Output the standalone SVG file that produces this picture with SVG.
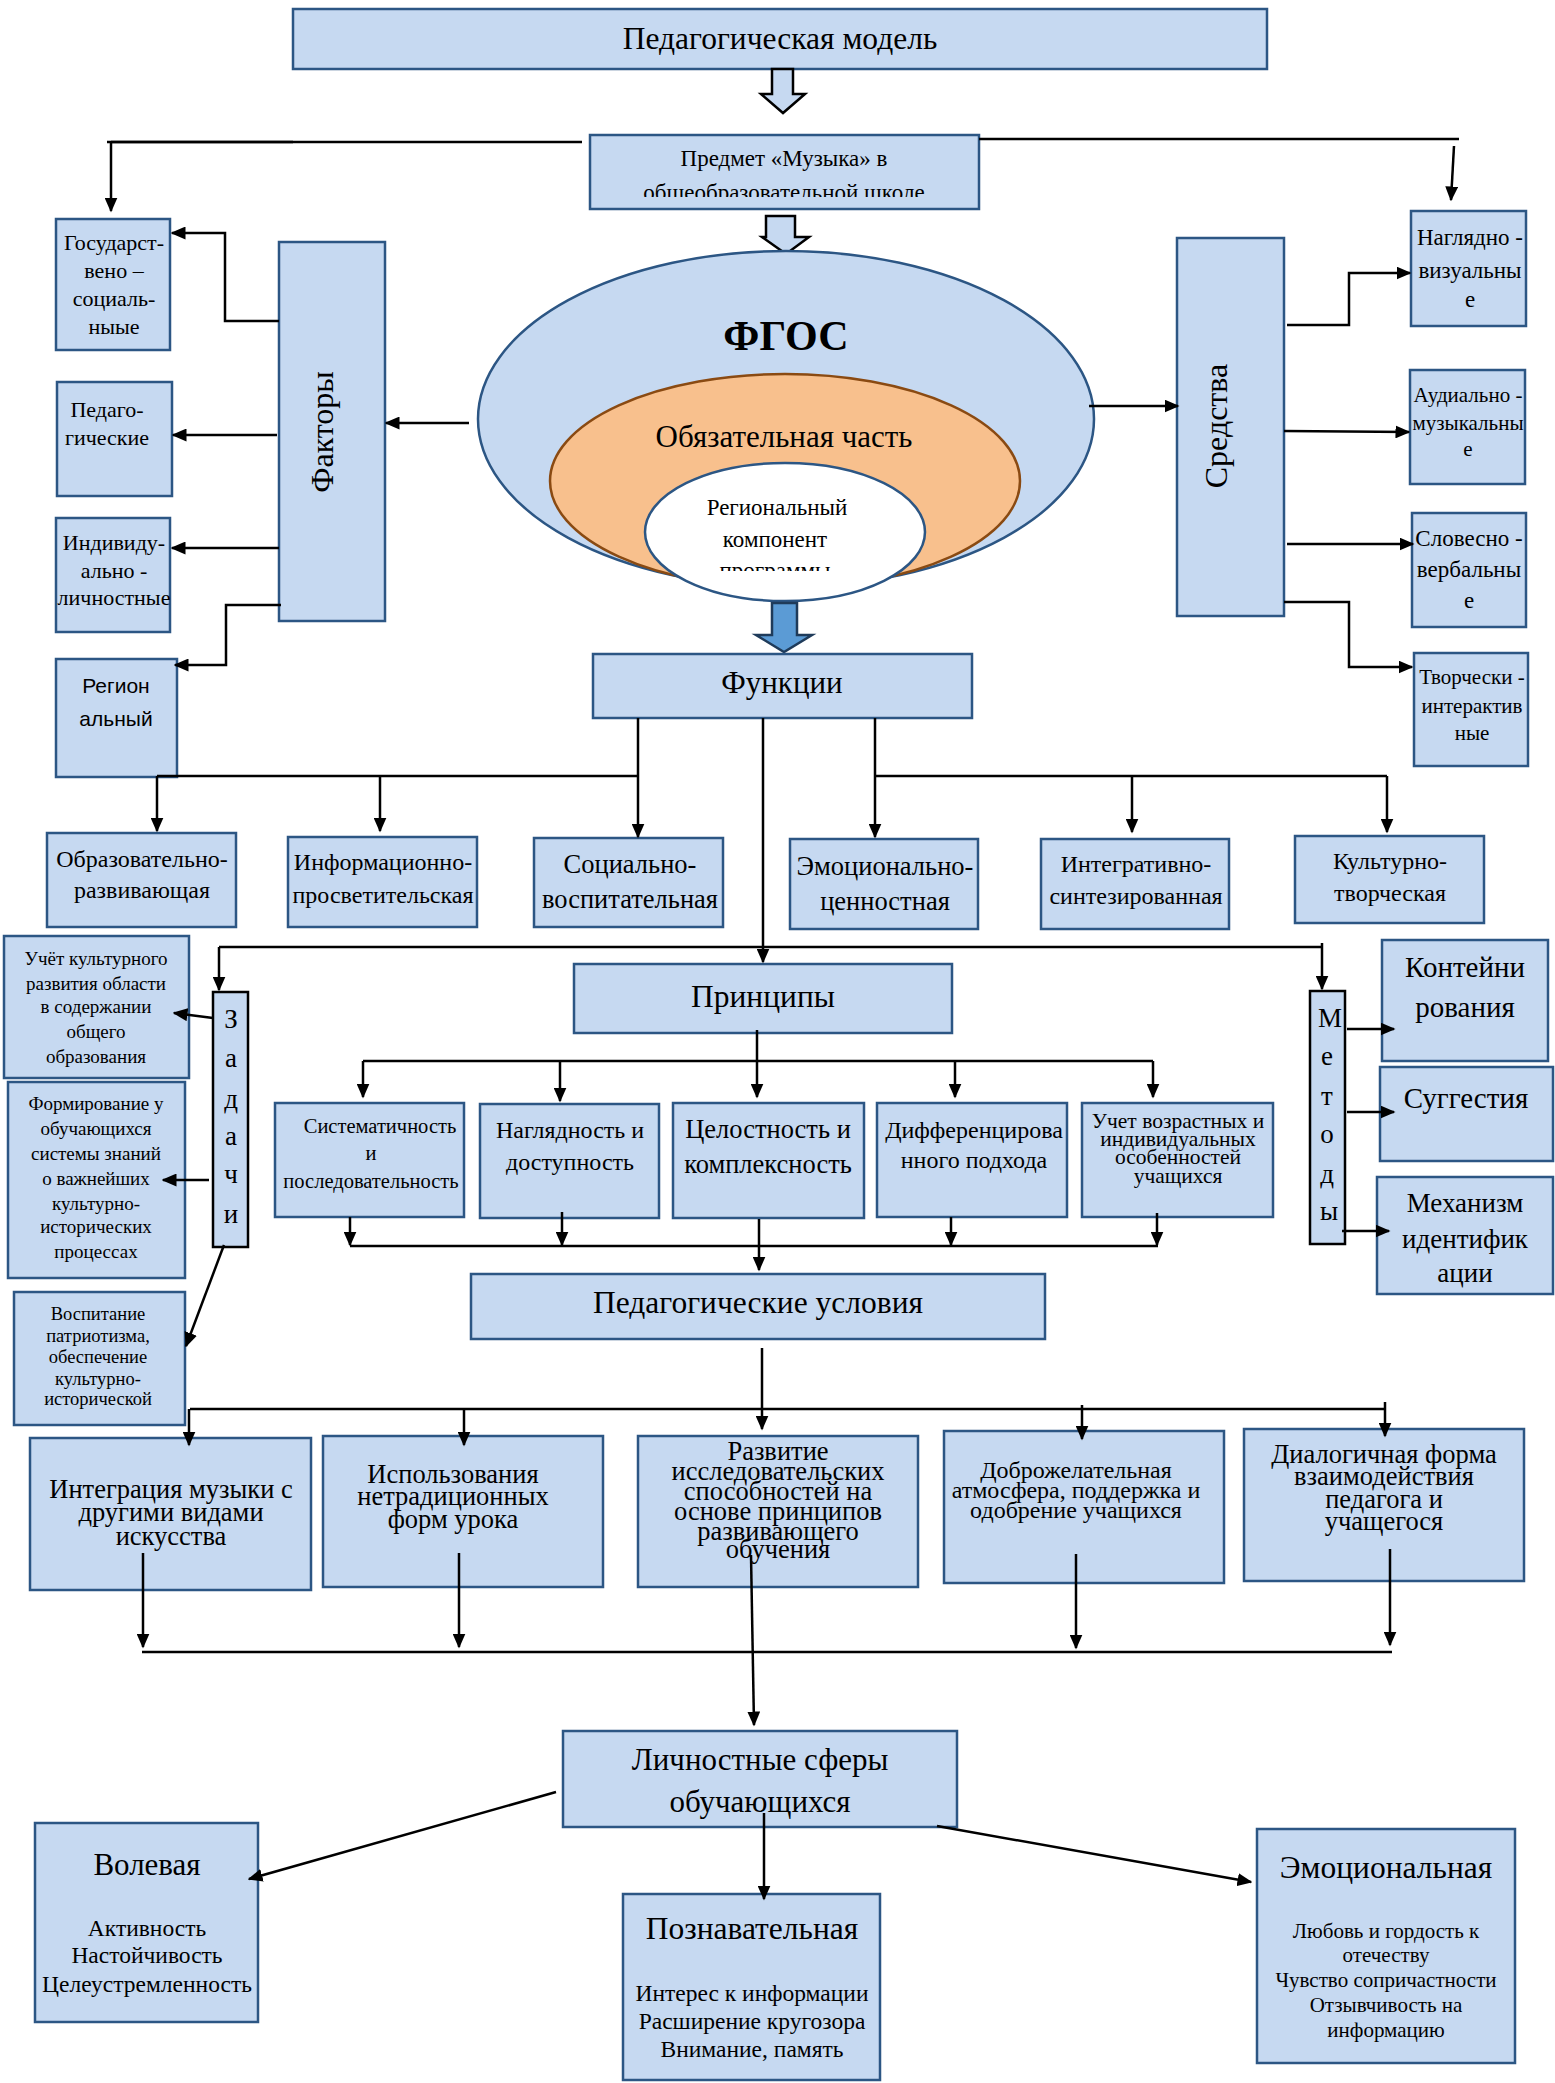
<svg xmlns="http://www.w3.org/2000/svg" width="1555" height="2083" viewBox="0 0 1555 2083">
<style>
.b{fill:#c6d9f1;stroke:#2c5684;stroke-width:2.5}
.t{font-family:"Liberation Serif","Times New Roman",serif;fill:#000;text-anchor:middle}
.s{font-family:"Liberation Sans",Arial,sans-serif;fill:#000;text-anchor:middle}
.c{fill:none;stroke:#000;stroke-width:2.5}
.ca{fill:none;stroke:#000;stroke-width:2.5;marker-end:url(#ah)}
</style>
<defs>
<marker id="ah" viewBox="0 0 10 10" refX="9" refY="5" markerWidth="15" markerHeight="13" markerUnits="userSpaceOnUse" orient="auto" preserveAspectRatio="none"><path d="M0,0 L10,5 L0,10 z" fill="#000"/></marker>
<clipPath id="cp1"><rect x="590" y="135" width="390" height="62"/></clipPath>
<clipPath id="cp2"><rect x="640" y="460" width="290" height="111"/></clipPath>
</defs>
<rect width="1555" height="2083" fill="#fff"/>

<g id="n-model"><rect class="b" x="293" y="9" width="974" height="60"/><text class="t" x="780" y="49" font-size="31.5">Педагогическая модель</text></g>
<g id="arrow1"><path d="M772,69 H793 V94 H805 L783,113 L761,94 H772 Z" fill="#c6d9f1" stroke="#000" stroke-width="2.5"/></g>
<g id="n-predmet"><rect class="b" x="590" y="135" width="389" height="74"/>
<g clip-path="url(#cp1)"><text class="t" x="784" y="166" font-size="23">Предмет «Музыка» в</text><text class="t" x="784" y="200" font-size="23">общеобразовательной школе</text></g></g>
<g id="arrow2"><path d="M766,216 H795 V237 H809 L786,254 L762,237 H766 Z" fill="#c6d9f1" stroke="#000" stroke-width="2.5"/></g>

<g id="n-fgos">
<ellipse cx="786" cy="419" rx="308" ry="168" fill="#c6d9f1" stroke="#2c5684" stroke-width="2.5"/>
<ellipse cx="785" cy="481" rx="235" ry="107" fill="#f8c08d" stroke="#8a4a12" stroke-width="2.5"/>
<ellipse cx="785" cy="532" rx="140" ry="69" fill="#fff" stroke="#2c5684" stroke-width="2.5"/>
<text class="t" x="786" y="350" font-size="42" font-weight="bold">ФГОС</text>
<text class="t" x="784" y="447" font-size="31">Обязательная часть</text>
<g clip-path="url(#cp2)"><text class="t" x="777" y="515" font-size="23">Региональный</text><text class="t" x="775" y="547" font-size="23">компонент</text><text class="t" x="775" y="578" font-size="23">программы</text></g>
</g>
<g id="arrow3"><path d="M772,603 H797 V635 H812 L784,652 L756,635 H772 Z" fill="#5b9bd5" stroke="#1f3b5a" stroke-width="2.5"/></g>

<g id="n-funkcii"><rect class="b" x="593" y="654" width="379" height="64"/><text class="t" x="782" y="693" font-size="31">Функции</text></g>

<g id="n-faktory"><rect class="b" x="279" y="242" width="106" height="379"/><text class="t" font-size="32" transform="translate(333,432) rotate(-90)">Факторы</text></g>
<g id="n-gos"><rect class="b" x="56" y="219" width="114" height="131"/><text class="t" font-size="22"><tspan x="114" y="250">Государст-</tspan><tspan x="114" y="278">вено –</tspan><tspan x="114" y="306">социаль-</tspan><tspan x="114" y="334">ныые</tspan></text></g>
<g id="n-ped"><rect class="b" x="57" y="382" width="115" height="114"/><text class="t" font-size="22"><tspan x="107" y="417">Педаго-</tspan><tspan x="107" y="445">гические</tspan></text></g>
<g id="n-ind"><rect class="b" x="56" y="518" width="114" height="114"/><text class="t" font-size="22"><tspan x="114" y="550">Индивиду-</tspan><tspan x="114" y="578">ально -</tspan><tspan x="114" y="605">личностные</tspan></text></g>
<g id="n-reg"><rect class="b" x="56" y="659" width="121" height="118"/><text class="s" font-size="21"><tspan x="116" y="693">Регион</tspan><tspan x="116" y="726">альный</tspan></text></g>

<g id="n-sredstva"><rect class="b" x="1177" y="238" width="107" height="378"/><text class="t" font-size="32" transform="translate(1227,426) rotate(-90)">Средства</text></g>
<g id="n-nagl"><rect class="b" x="1411" y="211" width="115" height="115"/><text class="t" font-size="23"><tspan x="1470" y="245">Наглядно -</tspan><tspan x="1470" y="278">визуальны</tspan><tspan x="1470" y="307">е</tspan></text></g>
<g id="n-aud"><rect class="b" x="1410" y="370" width="115" height="114"/><text class="t" font-size="21"><tspan x="1468" y="402">Аудиально -</tspan><tspan x="1468" y="430">музыкальны</tspan><tspan x="1468" y="456">е</tspan></text></g>
<g id="n-slov"><rect class="b" x="1412" y="513" width="114" height="114"/><text class="t" font-size="23"><tspan x="1469" y="546">Словесно -</tspan><tspan x="1469" y="577">вербальны</tspan><tspan x="1469" y="608">е</tspan></text></g>
<g id="n-tvor"><rect class="b" x="1414" y="653" width="114" height="113"/><text class="t" font-size="21"><tspan x="1472" y="684">Творчески -</tspan><tspan x="1472" y="713">интерактив</tspan><tspan x="1472" y="740">ные</tspan></text></g>

<g id="n-f1"><rect class="b" x="47" y="833" width="189" height="94"/><text class="t" font-size="24"><tspan x="142" y="867">Образовательно-</tspan><tspan x="142" y="898">развивающая</tspan></text></g>
<g id="n-f2"><rect class="b" x="288" y="837" width="189" height="90"/><text class="t" font-size="24"><tspan x="383" y="870">Информационно-</tspan><tspan x="383" y="903">просветительская</tspan></text></g>
<g id="n-f3"><rect class="b" x="534" y="838" width="189" height="89"/><text class="t" font-size="26.5"><tspan x="630" y="873">Социально-</tspan><tspan x="630" y="908">воспитательная</tspan></text></g>
<g id="n-f4"><rect class="b" x="790" y="839" width="188" height="90"/><text class="t" font-size="26.5"><tspan x="885" y="875">Эмоционально-</tspan><tspan x="885" y="910">ценностная</tspan></text></g>
<g id="n-f5"><rect class="b" x="1041" y="839" width="188" height="90"/><text class="t" font-size="24"><tspan x="1136" y="872">Интегративно-</tspan><tspan x="1136" y="904">синтезированная</tspan></text></g>
<g id="n-f6"><rect class="b" x="1295" y="836" width="189" height="87"/><text class="t" font-size="24"><tspan x="1390" y="869">Культурно-</tspan><tspan x="1390" y="901">творческая</tspan></text></g>

<g id="n-principy"><rect class="b" x="574" y="964" width="378" height="69"/><text class="t" x="763" y="1007" font-size="31.5">Принципы</text></g>

<g id="n-zadachi"><rect fill="#c6d9f1" stroke="#000" stroke-width="2.5" x="213" y="992" width="35" height="255"/><text class="t" font-size="27"><tspan x="231" y="1028">З</tspan><tspan x="231" y="1067">а</tspan><tspan x="231" y="1108">д</tspan><tspan x="231" y="1145">а</tspan><tspan x="231" y="1183">ч</tspan><tspan x="231" y="1223">и</tspan></text></g>
<g id="n-z1"><rect class="b" x="4" y="936" width="185" height="142"/><text class="t" font-size="19"><tspan x="96" y="965">Учёт культурного</tspan><tspan x="96" y="990">развития области</tspan><tspan x="96" y="1013">в содержании</tspan><tspan x="96" y="1038">общего</tspan><tspan x="96" y="1063">образования</tspan></text></g>
<g id="n-z2"><rect class="b" x="8" y="1082" width="177" height="196"/><text class="t" font-size="19"><tspan x="96" y="1110">Формирование у</tspan><tspan x="96" y="1135">обучающихся</tspan><tspan x="96" y="1160">системы знаний</tspan><tspan x="96" y="1185">о важнейших</tspan><tspan x="96" y="1210">культурно-</tspan><tspan x="96" y="1233">исторических</tspan><tspan x="96" y="1258">процессах</tspan></text></g>
<g id="n-z3"><rect class="b" x="14" y="1292" width="171" height="133"/><text class="t" font-size="18.5"><tspan x="98" y="1320">Воспитание</tspan><tspan x="98" y="1342">патриотизма,</tspan><tspan x="98" y="1363">обеспечение</tspan><tspan x="98" y="1385">культурно-</tspan><tspan x="98" y="1405">исторической</tspan></text></g>

<g id="n-metody"><rect fill="#c6d9f1" stroke="#000" stroke-width="2.5" x="1310" y="991" width="35" height="253"/><text class="t" font-size="27"><tspan x="1330" y="1027">М</tspan><tspan x="1327" y="1065">е</tspan><tspan x="1327" y="1105">т</tspan><tspan x="1327" y="1143">о</tspan><tspan x="1327" y="1183">д</tspan><tspan x="1329" y="1220">ы</tspan></text></g>
<g id="n-m1"><rect class="b" x="1382" y="940" width="166" height="121"/><text class="t" font-size="29"><tspan x="1465" y="977">Контейни</tspan><tspan x="1465" y="1017">рования</tspan></text></g>
<g id="n-m2"><rect class="b" x="1380" y="1067" width="173" height="94"/><text class="t" x="1466" y="1108" font-size="29">Суггестия</text></g>
<g id="n-m3"><rect class="b" x="1377" y="1177" width="176" height="117"/><text class="t" font-size="27"><tspan x="1465" y="1212">Механизм</tspan><tspan x="1465" y="1248">идентифик</tspan><tspan x="1465" y="1282">ации</tspan></text></g>

<g id="n-p1"><rect class="b" x="275" y="1103" width="189" height="114"/><text class="t" font-size="20.5"><tspan x="380" y="1133">Систематичность</tspan><tspan x="371" y="1160">и</tspan><tspan x="371" y="1188">последовательность</tspan></text></g>
<g id="n-p2"><rect class="b" x="480" y="1104" width="179" height="114"/><text class="t" font-size="24"><tspan x="570" y="1138">Наглядность и</tspan><tspan x="570" y="1170">доступность</tspan></text></g>
<g id="n-p3"><rect class="b" x="673" y="1103" width="191" height="115"/><text class="t" font-size="26.5"><tspan x="768" y="1138">Целостность и</tspan><tspan x="768" y="1173">комплексность</tspan></text></g>
<g id="n-p4"><rect class="b" x="877" y="1103" width="190" height="114"/><text class="t" font-size="24"><tspan x="974" y="1138">Дифференцирова</tspan><tspan x="974" y="1168">нного подхода</tspan></text></g>
<g id="n-p5"><rect class="b" x="1082" y="1103" width="191" height="114"/><text class="t" font-size="21.5"><tspan x="1178" y="1128">Учет возрастных и</tspan><tspan x="1178" y="1146">индивидуальных</tspan><tspan x="1178" y="1164">особенностей</tspan><tspan x="1178" y="1183">учащихся</tspan></text></g>

<g id="n-usloviya"><rect class="b" x="471" y="1274" width="574" height="65"/><text class="t" x="758" y="1313" font-size="31.5">Педагогические условия</text></g>

<g id="n-u1"><rect class="b" x="30" y="1438" width="281" height="152"/><text class="t" font-size="26.5"><tspan x="171" y="1498">Интеграция музыки с</tspan><tspan x="171" y="1521">другими видами</tspan><tspan x="171" y="1545">искусства</tspan></text></g>
<g id="n-u2"><rect class="b" x="323" y="1436" width="280" height="151"/><text class="t" font-size="26.5"><tspan x="453" y="1483">Использования</tspan><tspan x="453" y="1505">нетрадиционных</tspan><tspan x="453" y="1528">форм урока</tspan></text></g>
<g id="n-u3"><rect class="b" x="638" y="1436" width="280" height="151"/><text class="t" font-size="26.5"><tspan x="778" y="1460">Развитие</tspan><tspan x="778" y="1480">исследовательских</tspan><tspan x="778" y="1500">способностей на</tspan><tspan x="778" y="1520">основе принципов</tspan><tspan x="778" y="1540">развивающего</tspan><tspan x="778" y="1558">обучения</tspan></text></g>
<g id="n-u4"><rect class="b" x="944" y="1431" width="280" height="152"/><text class="t" font-size="24"><tspan x="1076" y="1478">Доброжелательная</tspan><tspan x="1076" y="1498">атмосфера, поддержка и</tspan><tspan x="1076" y="1518">одобрение учащихся</tspan></text></g>
<g id="n-u5"><rect class="b" x="1244" y="1429" width="280" height="152"/><text class="t" font-size="26.5"><tspan x="1384" y="1463">Диалогичная форма</tspan><tspan x="1384" y="1485">взаимодействия</tspan><tspan x="1384" y="1508">педагога и</tspan><tspan x="1384" y="1530">учащегося</tspan></text></g>

<g id="n-lichn"><rect class="b" x="563" y="1731" width="394" height="96"/><text class="t" font-size="31"><tspan x="760" y="1770">Личностные сферы</tspan><tspan x="760" y="1812">обучающихся</tspan></text></g>
<g id="n-vol"><rect class="b" x="35" y="1823" width="223" height="199"/><text class="t" x="147" y="1875" font-size="31">Волевая</text><text class="t" font-size="23.5"><tspan x="147" y="1936">Активность</tspan><tspan x="147" y="1963">Настойчивость</tspan><tspan x="147" y="1992">Целеустремленность</tspan></text></g>
<g id="n-pozn"><rect class="b" x="623" y="1894" width="257" height="186"/><text class="t" x="752" y="1939" font-size="31.5">Познавательная</text><text class="t" font-size="23.5"><tspan x="752" y="2001">Интерес к информации</tspan><tspan x="752" y="2029">Расширение кругозора</tspan><tspan x="752" y="2057">Внимание, память</tspan></text></g>
<g id="n-emo"><rect class="b" x="1257" y="1829" width="258" height="234"/><text class="t" x="1386" y="1878" font-size="31.5">Эмоциональная</text><text class="t" font-size="21"><tspan x="1386" y="1938">Любовь и гордость к</tspan><tspan x="1386" y="1962">отечеству</tspan><tspan x="1386" y="1987">Чувство сопричастности</tspan><tspan x="1386" y="2012">Отзывчивость на</tspan><tspan x="1386" y="2037">информацию</tspan></text></g>

<g id="connectors">
<path class="c" d="M107,142 H582"/>
<path class="c" d="M111,142 H293" stroke-width="3.5"/>
<path class="ca" d="M111,142 V211"/>
<path class="c" d="M979,139 H1459"/>
<path class="ca" d="M1454,146 L1451,200"/>
<path class="ca" d="M469,423 H386"/>
<path class="ca" d="M279,321 H225 V233 H172"/>
<path class="ca" d="M277,435 H173"/>
<path class="ca" d="M279,548 H172"/>
<path class="ca" d="M281,605 H226 V665 H175"/>
<path class="ca" d="M1089,406 H1178"/>
<path class="ca" d="M1287,325 H1349 V273 H1410"/>
<path class="ca" d="M1284,431 L1409,432"/>
<path class="ca" d="M1287,544 H1413"/>
<path class="ca" d="M1284,602 H1349 V667 H1412"/>
<path class="c" d="M157,776 H638 M875,776 H1387"/>
<path class="ca" d="M638,718 V837"/>
<path class="ca" d="M875,718 V837"/>
<path class="ca" d="M157,776 V831"/>
<path class="ca" d="M380,776 V831"/>
<path class="ca" d="M1132,776 V832"/>
<path class="ca" d="M1387,776 V832"/>
<path class="ca" d="M763,718 V962"/>
<path class="c" d="M219,947 H1322"/>
<path class="ca" d="M219,947 V990"/>
<path class="ca" d="M1322,943 V989"/>
<path class="ca" d="M213,1018 L174,1013"/>
<path class="ca" d="M209,1180 H163"/>
<path class="ca" d="M224,1245 L186,1346"/>
<path class="ca" d="M1347,1029 H1394"/>
<path class="ca" d="M1347,1112 H1394"/>
<path class="ca" d="M1342,1231 H1389"/>
<path class="c" d="M363,1061 H1153"/>
<path class="ca" d="M757,1030 V1097"/>
<path class="ca" d="M363,1061 V1097"/>
<path class="ca" d="M560,1061 V1101"/>
<path class="ca" d="M955,1061 V1097"/>
<path class="ca" d="M1153,1061 V1097"/>
<path class="c" d="M350,1246 H1158"/>
<path class="ca" d="M350,1217 V1245"/>
<path class="ca" d="M562,1212 V1245"/>
<path class="ca" d="M759,1219 V1270"/>
<path class="ca" d="M951,1217 V1245"/>
<path class="ca" d="M1157,1213 V1245"/>
<path class="ca" d="M762,1348 V1429"/>
<path class="c" d="M190,1409 H1386"/>
<path class="ca" d="M189,1409 V1445"/>
<path class="ca" d="M464,1409 V1445"/>
<path class="ca" d="M1082,1405 V1439"/>
<path class="ca" d="M1385,1402 V1436"/>
<path class="c" d="M142,1652 H1392"/>
<path class="ca" d="M143,1553 V1647"/>
<path class="ca" d="M459,1553 V1647"/>
<path class="ca" d="M1076,1554 V1648"/>
<path class="ca" d="M1390,1549 V1645"/>
<path class="ca" d="M751,1555 L754,1725"/>
<path class="ca" d="M764,1813 V1899"/>
<path class="ca" d="M556,1792 L249,1879"/>
<path class="ca" d="M937,1826 L1251,1882"/>
</g>
</svg>
